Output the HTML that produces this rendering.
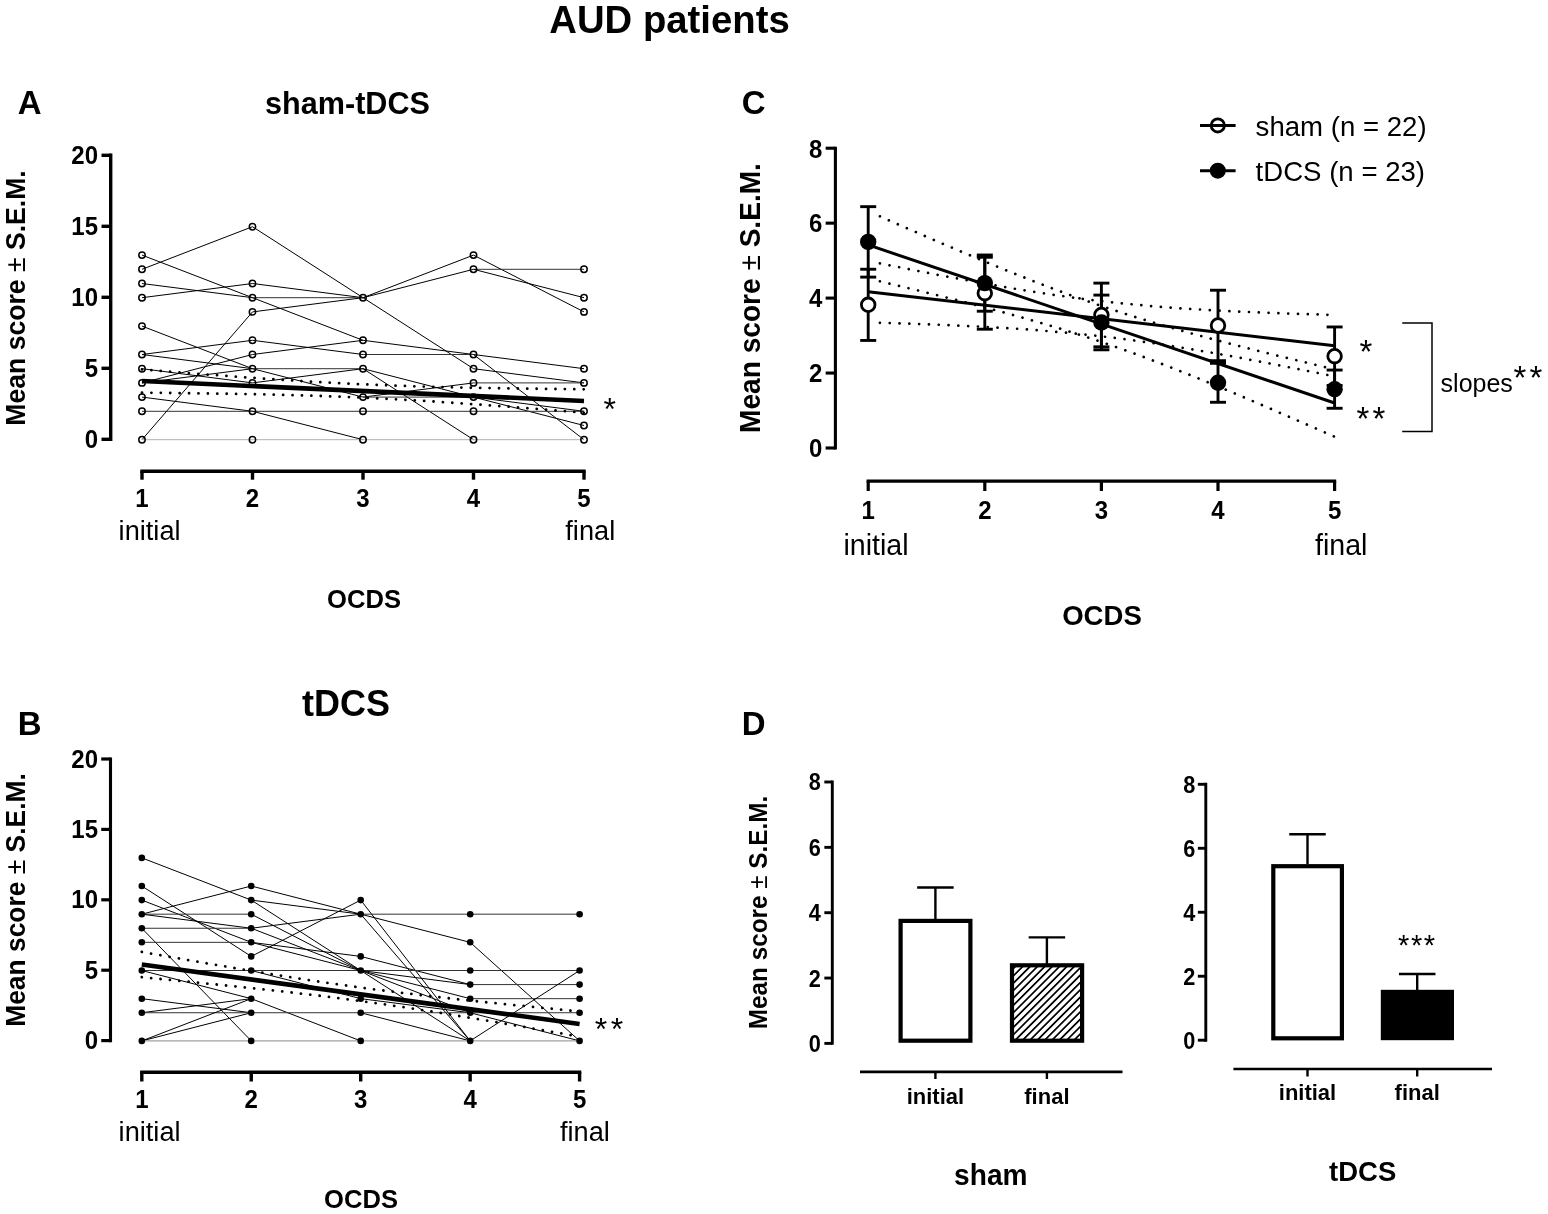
<!DOCTYPE html>
<html lang="en"><head><meta charset="utf-8"><title>AUD patients</title>
<style>html,body{margin:0;padding:0;background:#fff}svg{display:block}text{font-family:"Liberation Sans", Arial, Helvetica, sans-serif;fill:#000}</style></head><body>
<svg width="1548" height="1214" viewBox="0 0 1548 1214">
<rect width="1548" height="1214" fill="#fff"/>
<defs><pattern id="hatch" width="5.2" height="5.2" patternUnits="userSpaceOnUse" patternTransform="rotate(-45)"><line x1="0" y1="2.6" x2="5.2" y2="2.6" stroke="#000" stroke-width="1.7"/></pattern></defs>
<text transform="translate(669.5 33.0) scale(1 1.035)" font-size="38.3" font-weight="bold" text-anchor="middle">AUD patients</text>
<text transform="translate(17.8 114.0) scale(1 1.035)" font-size="33" font-weight="bold" text-anchor="start">A</text>
<text transform="translate(347.5 113.7) scale(1 1.035)" font-size="30.6" font-weight="bold" text-anchor="middle">sham-tDCS</text>
<text transform="translate(25.3,298.0) rotate(-90) scale(1 1.035)" font-size="26.6" font-weight="bold" text-anchor="middle">Mean score <tspan font-weight="normal">±</tspan> S.E.M.</text>
<line x1="110.70" y1="153.60" x2="110.70" y2="441.00" stroke="#000" stroke-width="3.4"/>
<line x1="101.50" y1="439.30" x2="110.70" y2="439.30" stroke="#000" stroke-width="3.4"/>
<text transform="translate(98.0 447.8) scale(1 1.1)" font-size="24" font-weight="bold" text-anchor="end">0</text>
<line x1="101.50" y1="368.30" x2="110.70" y2="368.30" stroke="#000" stroke-width="3.4"/>
<text transform="translate(98.0 376.8) scale(1 1.1)" font-size="24" font-weight="bold" text-anchor="end">5</text>
<line x1="101.50" y1="297.30" x2="110.70" y2="297.30" stroke="#000" stroke-width="3.4"/>
<text transform="translate(98.0 305.8) scale(1 1.1)" font-size="24" font-weight="bold" text-anchor="end">10</text>
<line x1="101.50" y1="226.30" x2="110.70" y2="226.30" stroke="#000" stroke-width="3.4"/>
<text transform="translate(98.0 234.8) scale(1 1.1)" font-size="24" font-weight="bold" text-anchor="end">15</text>
<line x1="101.50" y1="155.30" x2="110.70" y2="155.30" stroke="#000" stroke-width="3.4"/>
<text transform="translate(98.0 163.8) scale(1 1.1)" font-size="24" font-weight="bold" text-anchor="end">20</text>
<line x1="140.30" y1="471.20" x2="585.70" y2="471.20" stroke="#000" stroke-width="3.4"/>
<line x1="142.00" y1="471.20" x2="142.00" y2="479.70" stroke="#000" stroke-width="3.4"/>
<text transform="translate(142.0 507.0) scale(1 1.06)" font-size="24" font-weight="bold" text-anchor="middle">1</text>
<line x1="252.50" y1="471.20" x2="252.50" y2="479.70" stroke="#000" stroke-width="3.4"/>
<text transform="translate(252.5 507.0) scale(1 1.06)" font-size="24" font-weight="bold" text-anchor="middle">2</text>
<line x1="363.00" y1="471.20" x2="363.00" y2="479.70" stroke="#000" stroke-width="3.4"/>
<text transform="translate(363.0 507.0) scale(1 1.06)" font-size="24" font-weight="bold" text-anchor="middle">3</text>
<line x1="473.50" y1="471.20" x2="473.50" y2="479.70" stroke="#000" stroke-width="3.4"/>
<text transform="translate(473.5 507.0) scale(1 1.06)" font-size="24" font-weight="bold" text-anchor="middle">4</text>
<line x1="584.00" y1="471.20" x2="584.00" y2="479.70" stroke="#000" stroke-width="3.4"/>
<text transform="translate(584.0 507.0) scale(1 1.06)" font-size="24" font-weight="bold" text-anchor="middle">5</text>
<text transform="translate(118.6 540.2) scale(1 1.035)" font-size="27.2" text-anchor="start">initial</text>
<text transform="translate(565.3 540.2) scale(1 1.035)" font-size="27.2" text-anchor="start">final</text>
<text transform="translate(364.0 608.3) scale(1 1.035)" font-size="25.6" font-weight="bold" text-anchor="middle">OCDS</text>
<line x1="142.00" y1="255.10" x2="252.50" y2="297.70" stroke="#000" stroke-width="1.0"/>
<line x1="142.00" y1="269.30" x2="252.50" y2="226.70" stroke="#000" stroke-width="1.0"/>
<line x1="142.00" y1="283.50" x2="252.50" y2="297.70" stroke="#000" stroke-width="1.0"/>
<line x1="142.00" y1="297.70" x2="252.50" y2="283.50" stroke="#000" stroke-width="1.0"/>
<line x1="142.00" y1="326.10" x2="252.50" y2="368.70" stroke="#000" stroke-width="1.0"/>
<line x1="142.00" y1="354.50" x2="252.50" y2="340.30" stroke="#000" stroke-width="1.0"/>
<line x1="142.00" y1="354.50" x2="252.50" y2="368.70" stroke="#000" stroke-width="1.0"/>
<line x1="142.00" y1="368.70" x2="252.50" y2="382.90" stroke="#000" stroke-width="1.0"/>
<line x1="142.00" y1="382.90" x2="252.50" y2="354.50" stroke="#000" stroke-width="1.0"/>
<line x1="142.00" y1="382.90" x2="252.50" y2="368.70" stroke="#000" stroke-width="1.0"/>
<line x1="142.00" y1="397.10" x2="252.50" y2="411.30" stroke="#000" stroke-width="1.0"/>
<line x1="142.00" y1="411.30" x2="252.50" y2="411.30" stroke="#333" stroke-width="1.0"/>
<line x1="142.00" y1="439.70" x2="252.50" y2="311.90" stroke="#000" stroke-width="1.0"/>
<line x1="142.00" y1="439.70" x2="252.50" y2="439.70" stroke="#b0b0b0" stroke-width="1.0"/>
<line x1="252.50" y1="226.70" x2="363.00" y2="297.70" stroke="#000" stroke-width="1.0"/>
<line x1="252.50" y1="283.50" x2="363.00" y2="297.70" stroke="#000" stroke-width="1.0"/>
<line x1="252.50" y1="297.70" x2="363.00" y2="297.70" stroke="#333" stroke-width="1.0"/>
<line x1="252.50" y1="297.70" x2="363.00" y2="340.30" stroke="#000" stroke-width="1.0"/>
<line x1="252.50" y1="311.90" x2="363.00" y2="297.70" stroke="#000" stroke-width="1.0"/>
<line x1="252.50" y1="340.30" x2="363.00" y2="354.50" stroke="#000" stroke-width="1.0"/>
<line x1="252.50" y1="354.50" x2="363.00" y2="340.30" stroke="#000" stroke-width="1.0"/>
<line x1="252.50" y1="368.70" x2="363.00" y2="368.70" stroke="#333" stroke-width="1.0"/>
<line x1="252.50" y1="368.70" x2="363.00" y2="397.10" stroke="#000" stroke-width="1.0"/>
<line x1="252.50" y1="382.90" x2="363.00" y2="368.70" stroke="#000" stroke-width="1.0"/>
<line x1="252.50" y1="411.30" x2="363.00" y2="411.30" stroke="#333" stroke-width="1.0"/>
<line x1="252.50" y1="411.30" x2="363.00" y2="439.70" stroke="#000" stroke-width="1.0"/>
<line x1="252.50" y1="439.70" x2="363.00" y2="439.70" stroke="#b0b0b0" stroke-width="1.0"/>
<line x1="363.00" y1="297.70" x2="473.50" y2="255.10" stroke="#000" stroke-width="1.0"/>
<line x1="363.00" y1="297.70" x2="473.50" y2="269.30" stroke="#000" stroke-width="1.0"/>
<line x1="363.00" y1="297.70" x2="473.50" y2="368.70" stroke="#000" stroke-width="1.0"/>
<line x1="363.00" y1="340.30" x2="473.50" y2="354.50" stroke="#000" stroke-width="1.0"/>
<line x1="363.00" y1="354.50" x2="473.50" y2="354.50" stroke="#333" stroke-width="1.0"/>
<line x1="363.00" y1="368.70" x2="473.50" y2="397.10" stroke="#000" stroke-width="1.0"/>
<line x1="363.00" y1="368.70" x2="473.50" y2="439.70" stroke="#000" stroke-width="1.0"/>
<line x1="363.00" y1="397.10" x2="473.50" y2="382.90" stroke="#000" stroke-width="1.0"/>
<line x1="363.00" y1="397.10" x2="473.50" y2="397.10" stroke="#333" stroke-width="1.0"/>
<line x1="363.00" y1="411.30" x2="473.50" y2="411.30" stroke="#333" stroke-width="1.0"/>
<line x1="363.00" y1="439.70" x2="473.50" y2="439.70" stroke="#b0b0b0" stroke-width="1.0"/>
<line x1="473.50" y1="255.10" x2="584.00" y2="311.90" stroke="#000" stroke-width="1.0"/>
<line x1="473.50" y1="269.30" x2="584.00" y2="269.30" stroke="#333" stroke-width="1.0"/>
<line x1="473.50" y1="269.30" x2="584.00" y2="297.70" stroke="#000" stroke-width="1.0"/>
<line x1="473.50" y1="354.50" x2="584.00" y2="368.70" stroke="#000" stroke-width="1.0"/>
<line x1="473.50" y1="354.50" x2="584.00" y2="439.70" stroke="#000" stroke-width="1.0"/>
<line x1="473.50" y1="368.70" x2="584.00" y2="382.90" stroke="#000" stroke-width="1.0"/>
<line x1="473.50" y1="382.90" x2="584.00" y2="382.90" stroke="#333" stroke-width="1.0"/>
<line x1="473.50" y1="397.10" x2="584.00" y2="411.30" stroke="#000" stroke-width="1.0"/>
<line x1="473.50" y1="397.10" x2="584.00" y2="425.50" stroke="#000" stroke-width="1.0"/>
<line x1="473.50" y1="411.30" x2="584.00" y2="411.30" stroke="#333" stroke-width="1.0"/>
<line x1="473.50" y1="439.70" x2="584.00" y2="439.70" stroke="#b0b0b0" stroke-width="1.0"/>
<polyline points="142.0,369.4 149.4,370.0 156.7,370.6 164.1,371.2 171.5,371.8 178.8,372.3 186.2,372.9 193.6,373.5 200.9,374.0 208.3,374.6 215.7,375.1 223.0,375.7 230.4,376.2 237.8,376.8 245.1,377.3 252.5,377.8 259.9,378.3 267.2,378.8 274.6,379.3 282.0,379.8 289.3,380.3 296.7,380.7 304.1,381.2 311.4,381.6 318.8,382.1 326.2,382.5 333.5,382.9 340.9,383.3 348.3,383.6 355.6,384.0 363.0,384.3 370.4,384.6 377.7,385.0 385.1,385.2 392.5,385.5 399.8,385.8 407.2,386.0 414.6,386.3 421.9,386.5 429.3,386.7 436.7,386.9 444.0,387.1 451.4,387.3 458.8,387.5 466.1,387.6 473.5,387.8 480.9,387.9 488.2,388.0 495.6,388.2 503.0,388.3 510.3,388.4 517.7,388.5 525.1,388.6 532.4,388.7 539.8,388.8 547.2,388.9 554.5,389.0 561.9,389.1 569.3,389.1 576.6,389.2 584.0,389.3" fill="none" stroke="#000" stroke-width="2.8" stroke-linecap="round" stroke-dasharray="0.01 9.4"/>
<polyline points="142.0,392.7 149.4,392.8 156.7,392.8 164.1,392.9 171.5,393.0 178.8,393.1 186.2,393.2 193.6,393.3 200.9,393.4 208.3,393.5 215.7,393.6 223.0,393.7 230.4,393.8 237.8,394.0 245.1,394.1 252.5,394.2 259.9,394.4 267.2,394.5 274.6,394.7 282.0,394.9 289.3,395.1 296.7,395.3 304.1,395.5 311.4,395.7 318.8,395.9 326.2,396.2 333.5,396.5 340.9,396.7 348.3,397.0 355.6,397.3 363.0,397.7 370.4,398.0 377.7,398.4 385.1,398.7 392.5,399.1 399.8,399.5 407.2,399.9 414.6,400.3 421.9,400.8 429.3,401.2 436.7,401.7 444.0,402.2 451.4,402.7 458.8,403.2 466.1,403.7 473.5,404.2 480.9,404.7 488.2,405.2 495.6,405.8 503.0,406.3 510.3,406.8 517.7,407.4 525.1,408.0 532.4,408.5 539.8,409.1 547.2,409.7 554.5,410.2 561.9,410.8 569.3,411.4 576.6,412.0 584.0,412.6" fill="none" stroke="#000" stroke-width="2.8" stroke-linecap="round" stroke-dasharray="0.01 9.4"/>
<line x1="142.00" y1="381.05" x2="584.00" y2="400.93" stroke="#000" stroke-width="4.6"/>
<circle cx="142.0" cy="439.7" r="3.2" fill="none" stroke="#000" stroke-width="1.5"/>
<circle cx="142.0" cy="411.3" r="3.2" fill="none" stroke="#000" stroke-width="1.5"/>
<circle cx="142.0" cy="397.1" r="3.2" fill="none" stroke="#000" stroke-width="1.5"/>
<circle cx="142.0" cy="382.9" r="3.2" fill="none" stroke="#000" stroke-width="1.5"/>
<circle cx="142.0" cy="368.7" r="3.2" fill="none" stroke="#000" stroke-width="1.5"/>
<circle cx="142.0" cy="354.5" r="3.2" fill="none" stroke="#000" stroke-width="1.5"/>
<circle cx="142.0" cy="326.1" r="3.2" fill="none" stroke="#000" stroke-width="1.5"/>
<circle cx="142.0" cy="297.7" r="3.2" fill="none" stroke="#000" stroke-width="1.5"/>
<circle cx="142.0" cy="283.5" r="3.2" fill="none" stroke="#000" stroke-width="1.5"/>
<circle cx="142.0" cy="269.3" r="3.2" fill="none" stroke="#000" stroke-width="1.5"/>
<circle cx="142.0" cy="255.1" r="3.2" fill="none" stroke="#000" stroke-width="1.5"/>
<circle cx="252.5" cy="439.7" r="3.2" fill="none" stroke="#000" stroke-width="1.5"/>
<circle cx="252.5" cy="411.3" r="3.2" fill="none" stroke="#000" stroke-width="1.5"/>
<circle cx="252.5" cy="382.9" r="3.2" fill="none" stroke="#000" stroke-width="1.5"/>
<circle cx="252.5" cy="368.7" r="3.2" fill="none" stroke="#000" stroke-width="1.5"/>
<circle cx="252.5" cy="354.5" r="3.2" fill="none" stroke="#000" stroke-width="1.5"/>
<circle cx="252.5" cy="340.3" r="3.2" fill="none" stroke="#000" stroke-width="1.5"/>
<circle cx="252.5" cy="311.9" r="3.2" fill="none" stroke="#000" stroke-width="1.5"/>
<circle cx="252.5" cy="297.7" r="3.2" fill="none" stroke="#000" stroke-width="1.5"/>
<circle cx="252.5" cy="283.5" r="3.2" fill="none" stroke="#000" stroke-width="1.5"/>
<circle cx="252.5" cy="226.7" r="3.2" fill="none" stroke="#000" stroke-width="1.5"/>
<circle cx="363.0" cy="439.7" r="3.2" fill="none" stroke="#000" stroke-width="1.5"/>
<circle cx="363.0" cy="411.3" r="3.2" fill="none" stroke="#000" stroke-width="1.5"/>
<circle cx="363.0" cy="397.1" r="3.2" fill="none" stroke="#000" stroke-width="1.5"/>
<circle cx="363.0" cy="368.7" r="3.2" fill="none" stroke="#000" stroke-width="1.5"/>
<circle cx="363.0" cy="354.5" r="3.2" fill="none" stroke="#000" stroke-width="1.5"/>
<circle cx="363.0" cy="340.3" r="3.2" fill="none" stroke="#000" stroke-width="1.5"/>
<circle cx="363.0" cy="297.7" r="3.2" fill="none" stroke="#000" stroke-width="1.5"/>
<circle cx="473.5" cy="439.7" r="3.2" fill="none" stroke="#000" stroke-width="1.5"/>
<circle cx="473.5" cy="411.3" r="3.2" fill="none" stroke="#000" stroke-width="1.5"/>
<circle cx="473.5" cy="397.1" r="3.2" fill="none" stroke="#000" stroke-width="1.5"/>
<circle cx="473.5" cy="382.9" r="3.2" fill="none" stroke="#000" stroke-width="1.5"/>
<circle cx="473.5" cy="368.7" r="3.2" fill="none" stroke="#000" stroke-width="1.5"/>
<circle cx="473.5" cy="354.5" r="3.2" fill="none" stroke="#000" stroke-width="1.5"/>
<circle cx="473.5" cy="269.3" r="3.2" fill="none" stroke="#000" stroke-width="1.5"/>
<circle cx="473.5" cy="255.1" r="3.2" fill="none" stroke="#000" stroke-width="1.5"/>
<circle cx="584.0" cy="439.7" r="3.2" fill="none" stroke="#000" stroke-width="1.5"/>
<circle cx="584.0" cy="425.5" r="3.2" fill="none" stroke="#000" stroke-width="1.5"/>
<circle cx="584.0" cy="411.3" r="3.2" fill="none" stroke="#000" stroke-width="1.5"/>
<circle cx="584.0" cy="382.9" r="3.2" fill="none" stroke="#000" stroke-width="1.5"/>
<circle cx="584.0" cy="368.7" r="3.2" fill="none" stroke="#000" stroke-width="1.5"/>
<circle cx="584.0" cy="311.9" r="3.2" fill="none" stroke="#000" stroke-width="1.5"/>
<circle cx="584.0" cy="297.7" r="3.2" fill="none" stroke="#000" stroke-width="1.5"/>
<circle cx="584.0" cy="269.3" r="3.2" fill="none" stroke="#000" stroke-width="1.5"/>
<text x="603.4" y="420.0" font-size="32" letter-spacing="3.65">*</text>
<text transform="translate(17.8 735.4) scale(1 1.035)" font-size="33" font-weight="bold" text-anchor="start">B</text>
<text transform="translate(346.0 716.0) scale(1 1.035)" font-size="36" font-weight="bold" text-anchor="middle">tDCS</text>
<text transform="translate(25.3,900.0) rotate(-90) scale(1 1.035)" font-size="26.4" font-weight="bold" text-anchor="middle">Mean score <tspan font-weight="normal">±</tspan> S.E.M.</text>
<line x1="110.50" y1="757.45" x2="110.50" y2="1042.15" stroke="#000" stroke-width="3.1"/>
<line x1="101.25" y1="1040.60" x2="110.50" y2="1040.60" stroke="#000" stroke-width="3.2"/>
<text transform="translate(98.0 1049.2) scale(1 1.1)" font-size="24" font-weight="bold" text-anchor="end">0</text>
<line x1="101.25" y1="970.20" x2="110.50" y2="970.20" stroke="#000" stroke-width="3.2"/>
<text transform="translate(98.0 978.8) scale(1 1.1)" font-size="24" font-weight="bold" text-anchor="end">5</text>
<line x1="101.25" y1="899.80" x2="110.50" y2="899.80" stroke="#000" stroke-width="3.2"/>
<text transform="translate(98.0 908.4) scale(1 1.1)" font-size="24" font-weight="bold" text-anchor="end">10</text>
<line x1="101.25" y1="829.40" x2="110.50" y2="829.40" stroke="#000" stroke-width="3.2"/>
<text transform="translate(98.0 838.0) scale(1 1.1)" font-size="24" font-weight="bold" text-anchor="end">15</text>
<line x1="101.25" y1="759.00" x2="110.50" y2="759.00" stroke="#000" stroke-width="3.2"/>
<text transform="translate(98.0 767.6) scale(1 1.1)" font-size="24" font-weight="bold" text-anchor="end">20</text>
<line x1="140.10" y1="1072.20" x2="581.30" y2="1072.20" stroke="#000" stroke-width="3.4"/>
<line x1="141.80" y1="1072.20" x2="141.80" y2="1081.50" stroke="#000" stroke-width="3.4"/>
<text transform="translate(141.8 1107.5) scale(1 1.06)" font-size="24" font-weight="bold" text-anchor="middle">1</text>
<line x1="251.25" y1="1072.20" x2="251.25" y2="1081.50" stroke="#000" stroke-width="3.4"/>
<text transform="translate(251.2 1107.5) scale(1 1.06)" font-size="24" font-weight="bold" text-anchor="middle">2</text>
<line x1="360.70" y1="1072.20" x2="360.70" y2="1081.50" stroke="#000" stroke-width="3.4"/>
<text transform="translate(360.7 1107.5) scale(1 1.06)" font-size="24" font-weight="bold" text-anchor="middle">3</text>
<line x1="470.15" y1="1072.20" x2="470.15" y2="1081.50" stroke="#000" stroke-width="3.4"/>
<text transform="translate(470.2 1107.5) scale(1 1.06)" font-size="24" font-weight="bold" text-anchor="middle">4</text>
<line x1="579.60" y1="1072.20" x2="579.60" y2="1081.50" stroke="#000" stroke-width="3.4"/>
<text transform="translate(579.6 1107.5) scale(1 1.06)" font-size="24" font-weight="bold" text-anchor="middle">5</text>
<text transform="translate(118.6 1140.6) scale(1 1.035)" font-size="27.2" text-anchor="start">initial</text>
<text transform="translate(560.0 1140.6) scale(1 1.035)" font-size="27.2" text-anchor="start">final</text>
<text transform="translate(361.0 1207.5) scale(1 1.035)" font-size="25.6" font-weight="bold" text-anchor="middle">OCDS</text>
<line x1="141.80" y1="857.86" x2="251.25" y2="900.10" stroke="#000" stroke-width="1.0"/>
<line x1="141.80" y1="886.02" x2="251.25" y2="956.42" stroke="#000" stroke-width="1.0"/>
<line x1="141.80" y1="900.10" x2="251.25" y2="942.34" stroke="#000" stroke-width="1.0"/>
<line x1="141.80" y1="914.18" x2="251.25" y2="886.02" stroke="#000" stroke-width="1.0"/>
<line x1="141.80" y1="914.18" x2="251.25" y2="914.18" stroke="#333" stroke-width="1.0"/>
<line x1="141.80" y1="914.18" x2="251.25" y2="928.26" stroke="#000" stroke-width="1.0"/>
<line x1="141.80" y1="928.26" x2="251.25" y2="928.26" stroke="#333" stroke-width="1.0"/>
<line x1="141.80" y1="928.26" x2="251.25" y2="1040.90" stroke="#000" stroke-width="1.0"/>
<line x1="141.80" y1="942.34" x2="251.25" y2="942.34" stroke="#333" stroke-width="1.0"/>
<line x1="141.80" y1="970.50" x2="251.25" y2="970.50" stroke="#333" stroke-width="1.0"/>
<line x1="141.80" y1="970.50" x2="251.25" y2="998.66" stroke="#000" stroke-width="1.0"/>
<line x1="141.80" y1="998.66" x2="251.25" y2="1012.74" stroke="#000" stroke-width="1.0"/>
<line x1="141.80" y1="1012.74" x2="251.25" y2="998.66" stroke="#000" stroke-width="1.0"/>
<line x1="141.80" y1="1012.74" x2="251.25" y2="1012.74" stroke="#333" stroke-width="1.0"/>
<line x1="141.80" y1="1040.90" x2="251.25" y2="998.66" stroke="#000" stroke-width="1.0"/>
<line x1="141.80" y1="1040.90" x2="251.25" y2="1012.74" stroke="#000" stroke-width="1.0"/>
<line x1="141.80" y1="1040.90" x2="251.25" y2="1040.90" stroke="#8a8a8a" stroke-width="1.0"/>
<line x1="251.25" y1="886.02" x2="360.70" y2="914.18" stroke="#000" stroke-width="1.0"/>
<line x1="251.25" y1="900.10" x2="360.70" y2="914.18" stroke="#000" stroke-width="1.0"/>
<line x1="251.25" y1="900.10" x2="360.70" y2="970.50" stroke="#000" stroke-width="1.0"/>
<line x1="251.25" y1="914.18" x2="360.70" y2="970.50" stroke="#000" stroke-width="1.0"/>
<line x1="251.25" y1="928.26" x2="360.70" y2="914.18" stroke="#000" stroke-width="1.0"/>
<line x1="251.25" y1="928.26" x2="360.70" y2="970.50" stroke="#000" stroke-width="1.0"/>
<line x1="251.25" y1="942.34" x2="360.70" y2="956.42" stroke="#000" stroke-width="1.0"/>
<line x1="251.25" y1="942.34" x2="360.70" y2="970.50" stroke="#000" stroke-width="1.0"/>
<line x1="251.25" y1="956.42" x2="360.70" y2="900.10" stroke="#000" stroke-width="1.0"/>
<line x1="251.25" y1="970.50" x2="360.70" y2="970.50" stroke="#333" stroke-width="1.0"/>
<line x1="251.25" y1="970.50" x2="360.70" y2="998.66" stroke="#000" stroke-width="1.0"/>
<line x1="251.25" y1="998.66" x2="360.70" y2="1040.90" stroke="#000" stroke-width="1.0"/>
<line x1="251.25" y1="1012.74" x2="360.70" y2="1012.74" stroke="#333" stroke-width="1.0"/>
<line x1="251.25" y1="1040.90" x2="360.70" y2="1040.90" stroke="#8a8a8a" stroke-width="1.0"/>
<line x1="360.70" y1="900.10" x2="470.15" y2="1040.90" stroke="#000" stroke-width="1.0"/>
<line x1="360.70" y1="914.18" x2="470.15" y2="914.18" stroke="#333" stroke-width="1.0"/>
<line x1="360.70" y1="914.18" x2="470.15" y2="942.34" stroke="#000" stroke-width="1.0"/>
<line x1="360.70" y1="914.18" x2="470.15" y2="1040.90" stroke="#000" stroke-width="1.0"/>
<line x1="360.70" y1="956.42" x2="470.15" y2="984.58" stroke="#000" stroke-width="1.0"/>
<line x1="360.70" y1="970.50" x2="470.15" y2="970.50" stroke="#333" stroke-width="1.0"/>
<line x1="360.70" y1="970.50" x2="470.15" y2="984.58" stroke="#000" stroke-width="1.0"/>
<line x1="360.70" y1="970.50" x2="470.15" y2="998.66" stroke="#000" stroke-width="1.0"/>
<line x1="360.70" y1="970.50" x2="470.15" y2="1012.74" stroke="#000" stroke-width="1.0"/>
<line x1="360.70" y1="970.50" x2="470.15" y2="1040.90" stroke="#000" stroke-width="1.0"/>
<line x1="360.70" y1="998.66" x2="470.15" y2="1012.74" stroke="#000" stroke-width="1.0"/>
<line x1="360.70" y1="1012.74" x2="470.15" y2="1012.74" stroke="#333" stroke-width="1.0"/>
<line x1="360.70" y1="1012.74" x2="470.15" y2="1040.90" stroke="#000" stroke-width="1.0"/>
<line x1="360.70" y1="1040.90" x2="470.15" y2="1040.90" stroke="#8a8a8a" stroke-width="1.0"/>
<line x1="470.15" y1="914.18" x2="579.60" y2="914.18" stroke="#333" stroke-width="1.0"/>
<line x1="470.15" y1="942.34" x2="579.60" y2="1040.90" stroke="#000" stroke-width="1.0"/>
<line x1="470.15" y1="970.50" x2="579.60" y2="970.50" stroke="#333" stroke-width="1.0"/>
<line x1="470.15" y1="984.58" x2="579.60" y2="984.58" stroke="#333" stroke-width="1.0"/>
<line x1="470.15" y1="998.66" x2="579.60" y2="998.66" stroke="#333" stroke-width="1.0"/>
<line x1="470.15" y1="1012.74" x2="579.60" y2="1012.74" stroke="#333" stroke-width="1.0"/>
<line x1="470.15" y1="1012.74" x2="579.60" y2="1040.90" stroke="#000" stroke-width="1.0"/>
<line x1="470.15" y1="1040.90" x2="579.60" y2="970.50" stroke="#000" stroke-width="1.0"/>
<line x1="470.15" y1="1040.90" x2="579.60" y2="1040.90" stroke="#8a8a8a" stroke-width="1.0"/>
<polyline points="141.8,951.9 149.1,953.2 156.4,954.5 163.7,955.8 171.0,957.1 178.3,958.3 185.6,959.6 192.9,960.9 200.2,962.2 207.5,963.4 214.8,964.7 222.1,965.9 229.4,967.1 236.7,968.4 244.0,969.6 251.2,970.8 258.5,972.0 265.8,973.2 273.1,974.4 280.4,975.6 287.7,976.8 295.0,977.9 302.3,979.0 309.6,980.2 316.9,981.3 324.2,982.4 331.5,983.4 338.8,984.5 346.1,985.5 353.4,986.5 360.7,987.5 368.0,988.5 375.3,989.5 382.6,990.4 389.9,991.3 397.2,992.3 404.5,993.1 411.8,994.0 419.1,994.9 426.4,995.7 433.7,996.6 441.0,997.4 448.3,998.2 455.6,999.0 462.9,999.8 470.2,1000.5 477.4,1001.3 484.7,1002.1 492.0,1002.8 499.3,1003.5 506.6,1004.3 513.9,1005.0 521.2,1005.7 528.5,1006.4 535.8,1007.2 543.1,1007.9 550.4,1008.6 557.7,1009.3 565.0,1010.0 572.3,1010.7 579.6,1011.3" fill="none" stroke="#000" stroke-width="2.8" stroke-linecap="round" stroke-dasharray="0.01 9.4"/>
<polyline points="141.8,977.2 149.1,977.9 156.4,978.6 163.7,979.3 171.0,980.0 178.3,980.7 185.6,981.4 192.9,982.1 200.2,982.9 207.5,983.6 214.8,984.3 222.1,985.1 229.4,985.8 236.7,986.5 244.0,987.3 251.2,988.1 258.5,988.8 265.8,989.6 273.1,990.4 280.4,991.2 287.7,992.0 295.0,992.9 302.3,993.7 309.6,994.6 316.9,995.4 324.2,996.3 331.5,997.2 338.8,998.2 346.1,999.1 353.4,1000.1 360.7,1001.1 368.0,1002.1 375.3,1003.1 382.6,1004.1 389.9,1005.2 397.2,1006.2 404.5,1007.3 411.8,1008.4 419.1,1009.6 426.4,1010.7 433.7,1011.8 441.0,1013.0 448.3,1014.2 455.6,1015.4 462.9,1016.6 470.2,1017.8 477.4,1019.0 484.7,1020.2 492.0,1021.4 499.3,1022.7 506.6,1023.9 513.9,1025.2 521.2,1026.4 528.5,1027.7 535.8,1029.0 543.1,1030.2 550.4,1031.5 557.7,1032.8 565.0,1034.1 572.3,1035.4 579.6,1036.7" fill="none" stroke="#000" stroke-width="2.8" stroke-linecap="round" stroke-dasharray="0.01 9.4"/>
<line x1="141.80" y1="964.59" x2="579.60" y2="1024.00" stroke="#000" stroke-width="4.6"/>
<circle cx="141.8" cy="1040.9" r="3.3" fill="#000"/>
<circle cx="141.8" cy="1012.7" r="3.3" fill="#000"/>
<circle cx="141.8" cy="998.7" r="3.3" fill="#000"/>
<circle cx="141.8" cy="970.5" r="3.3" fill="#000"/>
<circle cx="141.8" cy="942.3" r="3.3" fill="#000"/>
<circle cx="141.8" cy="928.3" r="3.3" fill="#000"/>
<circle cx="141.8" cy="914.2" r="3.3" fill="#000"/>
<circle cx="141.8" cy="900.1" r="3.3" fill="#000"/>
<circle cx="141.8" cy="886.0" r="3.3" fill="#000"/>
<circle cx="141.8" cy="857.9" r="3.3" fill="#000"/>
<circle cx="251.2" cy="1040.9" r="3.3" fill="#000"/>
<circle cx="251.2" cy="1012.7" r="3.3" fill="#000"/>
<circle cx="251.2" cy="998.7" r="3.3" fill="#000"/>
<circle cx="251.2" cy="970.5" r="3.3" fill="#000"/>
<circle cx="251.2" cy="956.4" r="3.3" fill="#000"/>
<circle cx="251.2" cy="942.3" r="3.3" fill="#000"/>
<circle cx="251.2" cy="928.3" r="3.3" fill="#000"/>
<circle cx="251.2" cy="914.2" r="3.3" fill="#000"/>
<circle cx="251.2" cy="900.1" r="3.3" fill="#000"/>
<circle cx="251.2" cy="886.0" r="3.3" fill="#000"/>
<circle cx="360.7" cy="1040.9" r="3.3" fill="#000"/>
<circle cx="360.7" cy="1012.7" r="3.3" fill="#000"/>
<circle cx="360.7" cy="998.7" r="3.3" fill="#000"/>
<circle cx="360.7" cy="970.5" r="3.3" fill="#000"/>
<circle cx="360.7" cy="956.4" r="3.3" fill="#000"/>
<circle cx="360.7" cy="914.2" r="3.3" fill="#000"/>
<circle cx="360.7" cy="900.1" r="3.3" fill="#000"/>
<circle cx="470.2" cy="1040.9" r="3.3" fill="#000"/>
<circle cx="470.2" cy="1012.7" r="3.3" fill="#000"/>
<circle cx="470.2" cy="998.7" r="3.3" fill="#000"/>
<circle cx="470.2" cy="984.6" r="3.3" fill="#000"/>
<circle cx="470.2" cy="970.5" r="3.3" fill="#000"/>
<circle cx="470.2" cy="942.3" r="3.3" fill="#000"/>
<circle cx="470.2" cy="914.2" r="3.3" fill="#000"/>
<circle cx="579.6" cy="1040.9" r="3.3" fill="#000"/>
<circle cx="579.6" cy="1012.7" r="3.3" fill="#000"/>
<circle cx="579.6" cy="998.7" r="3.3" fill="#000"/>
<circle cx="579.6" cy="984.6" r="3.3" fill="#000"/>
<circle cx="579.6" cy="970.5" r="3.3" fill="#000"/>
<circle cx="579.6" cy="914.2" r="3.3" fill="#000"/>
<text x="594.7" y="1040.3" font-size="32" letter-spacing="3.65">**</text>
<text transform="translate(741.8 114.0) scale(1 1.035)" font-size="33" font-weight="bold" text-anchor="start">C</text>
<text transform="translate(760.3,298.0) rotate(-90) scale(1 1.035)" font-size="28.1" font-weight="bold" text-anchor="middle">Mean score <tspan font-weight="normal">±</tspan> S.E.M.</text>
<line x1="835.40" y1="146.65" x2="835.40" y2="449.55" stroke="#000" stroke-width="3.1"/>
<line x1="825.65" y1="448.00" x2="835.40" y2="448.00" stroke="#000" stroke-width="3.1"/>
<text transform="translate(822.3 457.3) scale(1 1.1)" font-size="24" font-weight="bold" text-anchor="end">0</text>
<line x1="825.65" y1="373.05" x2="835.40" y2="373.05" stroke="#000" stroke-width="3.1"/>
<text transform="translate(822.3 382.3) scale(1 1.1)" font-size="24" font-weight="bold" text-anchor="end">2</text>
<line x1="825.65" y1="298.10" x2="835.40" y2="298.10" stroke="#000" stroke-width="3.1"/>
<text transform="translate(822.3 307.4) scale(1 1.1)" font-size="24" font-weight="bold" text-anchor="end">4</text>
<line x1="825.65" y1="223.15" x2="835.40" y2="223.15" stroke="#000" stroke-width="3.1"/>
<text transform="translate(822.3 232.4) scale(1 1.1)" font-size="24" font-weight="bold" text-anchor="end">6</text>
<line x1="825.65" y1="148.20" x2="835.40" y2="148.20" stroke="#000" stroke-width="3.1"/>
<text transform="translate(822.3 157.5) scale(1 1.1)" font-size="24" font-weight="bold" text-anchor="end">8</text>
<line x1="866.60" y1="481.20" x2="1336.20" y2="481.20" stroke="#000" stroke-width="3.2"/>
<line x1="868.20" y1="481.20" x2="868.20" y2="491.00" stroke="#000" stroke-width="3.2"/>
<text transform="translate(868.2 518.7) scale(1 1.06)" font-size="24" font-weight="bold" text-anchor="middle">1</text>
<line x1="984.80" y1="481.20" x2="984.80" y2="491.00" stroke="#000" stroke-width="3.2"/>
<text transform="translate(984.8 518.7) scale(1 1.06)" font-size="24" font-weight="bold" text-anchor="middle">2</text>
<line x1="1101.40" y1="481.20" x2="1101.40" y2="491.00" stroke="#000" stroke-width="3.2"/>
<text transform="translate(1101.4 518.7) scale(1 1.06)" font-size="24" font-weight="bold" text-anchor="middle">3</text>
<line x1="1218.00" y1="481.20" x2="1218.00" y2="491.00" stroke="#000" stroke-width="3.2"/>
<text transform="translate(1218.0 518.7) scale(1 1.06)" font-size="24" font-weight="bold" text-anchor="middle">4</text>
<line x1="1334.60" y1="481.20" x2="1334.60" y2="491.00" stroke="#000" stroke-width="3.2"/>
<text transform="translate(1334.6 518.7) scale(1 1.06)" font-size="24" font-weight="bold" text-anchor="middle">5</text>
<text transform="translate(843.4 554.6) scale(1 1.035)" font-size="28.6" text-anchor="start">initial</text>
<text transform="translate(1315.0 554.6) scale(1 1.035)" font-size="28.6" text-anchor="start">final</text>
<text transform="translate(1102.0 625.0) scale(1 1.035)" font-size="27.6" font-weight="bold" text-anchor="middle">OCDS</text>
<line x1="1200.00" y1="125.40" x2="1235.60" y2="125.40" stroke="#000" stroke-width="3"/>
<circle cx="1217.8" cy="125.4" r="6.6" fill="none" stroke="#000" stroke-width="2.8"/>
<text transform="translate(1255.6 136.0) scale(1 1.035)" font-size="27.6" text-anchor="start">sham (n = 22)</text>
<line x1="1200.00" y1="170.70" x2="1235.60" y2="170.70" stroke="#000" stroke-width="3"/>
<circle cx="1217.8" cy="170.7" r="8" fill="#000"/>
<text transform="translate(1255.6 181.2) scale(1 1.035)" font-size="27.6" text-anchor="start">tDCS (n = 23)</text>
<polyline points="879.9,263.4 887.4,264.9 895.0,266.4 902.6,267.9 910.2,269.4 917.8,270.9 925.3,272.4 932.9,273.9 940.5,275.4 948.1,276.8 955.7,278.2 963.2,279.6 970.8,281.0 978.4,282.4 986.0,283.8 993.5,285.1 1001.1,286.4 1008.7,287.7 1016.3,289.0 1023.9,290.2 1031.4,291.5 1039.0,292.6 1046.6,293.8 1054.2,294.9 1061.8,296.0 1069.3,297.1 1076.9,298.1 1084.5,299.0 1092.1,300.0 1099.7,300.9 1107.2,301.8 1114.8,302.6 1122.4,303.4 1130.0,304.1 1137.5,304.9 1145.1,305.5 1152.7,306.2 1160.3,306.8 1167.9,307.4 1175.4,307.9 1183.0,308.5 1190.6,309.0 1198.2,309.4 1205.8,309.9 1213.3,310.3 1220.9,310.7 1228.5,311.1 1236.1,311.5 1243.7,311.8 1251.2,312.1 1258.8,312.4 1266.4,312.7 1274.0,313.0 1281.5,313.3 1289.1,313.6 1296.7,313.8 1304.3,314.1 1311.9,314.3 1319.4,314.5 1327.0,314.8 1334.6,315.0" fill="none" stroke="#000" stroke-width="2.7" stroke-linecap="round" stroke-dasharray="0.01 9.8"/>
<polyline points="879.9,322.8 887.4,323.0 895.0,323.2 902.6,323.5 910.2,323.7 917.8,324.0 925.3,324.3 932.9,324.5 940.5,324.8 948.1,325.1 955.7,325.5 963.2,325.8 970.8,326.2 978.4,326.5 986.0,326.9 993.5,327.3 1001.1,327.8 1008.7,328.2 1016.3,328.7 1023.9,329.2 1031.4,329.8 1039.0,330.4 1046.6,331.0 1054.2,331.6 1061.8,332.3 1069.3,333.0 1076.9,333.7 1084.5,334.5 1092.1,335.3 1099.7,336.1 1107.2,337.0 1114.8,337.9 1122.4,338.9 1130.0,339.9 1137.5,340.9 1145.1,342.0 1152.7,343.1 1160.3,344.3 1167.9,345.4 1175.4,346.6 1183.0,347.9 1190.6,349.1 1198.2,350.4 1205.8,351.7 1213.3,353.0 1220.9,354.4 1228.5,355.7 1236.1,357.1 1243.7,358.5 1251.2,360.0 1258.8,361.4 1266.4,362.9 1274.0,364.3 1281.5,365.8 1289.1,367.3 1296.7,368.8 1304.3,370.3 1311.9,371.8 1319.4,373.3 1327.0,374.9 1334.6,376.4" fill="none" stroke="#000" stroke-width="2.7" stroke-linecap="round" stroke-dasharray="0.01 9.8"/>
<polyline points="879.9,216.3 887.4,219.7 895.0,223.0 902.6,226.3 910.2,229.6 917.8,232.9 925.3,236.2 932.9,239.5 940.5,242.8 948.1,246.0 955.7,249.2 963.2,252.4 970.8,255.6 978.4,258.8 986.0,262.0 993.5,265.1 1001.1,268.2 1008.7,271.3 1016.3,274.3 1023.9,277.3 1031.4,280.3 1039.0,283.3 1046.6,286.2 1054.2,289.1 1061.8,291.9 1069.3,294.7 1076.9,297.4 1084.5,300.1 1092.1,302.8 1099.7,305.4 1107.2,307.9 1114.8,310.4 1122.4,312.9 1130.0,315.3 1137.5,317.7 1145.1,320.0 1152.7,322.3 1160.3,324.6 1167.9,326.8 1175.4,328.9 1183.0,331.1 1190.6,333.2 1198.2,335.2 1205.8,337.3 1213.3,339.3 1220.9,341.3 1228.5,343.3 1236.1,345.2 1243.7,347.2 1251.2,349.1 1258.8,351.0 1266.4,352.9 1274.0,354.8 1281.5,356.6 1289.1,358.5 1296.7,360.3 1304.3,362.1 1311.9,363.9 1319.4,365.8 1327.0,367.6 1334.6,369.3" fill="none" stroke="#000" stroke-width="2.7" stroke-linecap="round" stroke-dasharray="0.01 9.8"/>
<polyline points="879.9,281.3 887.4,283.1 895.0,284.9 902.6,286.8 910.2,288.6 917.8,290.4 925.3,292.3 932.9,294.2 940.5,296.0 948.1,297.9 955.7,299.8 963.2,301.8 970.8,303.7 978.4,305.7 986.0,307.7 993.5,309.7 1001.1,311.7 1008.7,313.8 1016.3,315.9 1023.9,318.0 1031.4,320.2 1039.0,322.3 1046.6,324.6 1054.2,326.8 1061.8,329.1 1069.3,331.5 1076.9,333.9 1084.5,336.3 1092.1,338.8 1099.7,341.4 1107.2,343.9 1114.8,346.6 1122.4,349.2 1130.0,352.0 1137.5,354.7 1145.1,357.5 1152.7,360.4 1160.3,363.3 1167.9,366.2 1175.4,369.2 1183.0,372.2 1190.6,375.2 1198.2,378.3 1205.8,381.4 1213.3,384.5 1220.9,387.6 1228.5,390.8 1236.1,394.0 1243.7,397.2 1251.2,400.4 1258.8,403.7 1266.4,406.9 1274.0,410.2 1281.5,413.5 1289.1,416.8 1296.7,420.1 1304.3,423.4 1311.9,426.7 1319.4,430.0 1327.0,433.4 1334.6,436.7" fill="none" stroke="#000" stroke-width="2.7" stroke-linecap="round" stroke-dasharray="0.01 9.8"/>
<line x1="868.20" y1="269.24" x2="868.20" y2="340.45" stroke="#000" stroke-width="2.9"/>
<line x1="860.20" y1="269.24" x2="876.20" y2="269.24" stroke="#000" stroke-width="2.9"/>
<line x1="860.20" y1="340.45" x2="876.20" y2="340.45" stroke="#000" stroke-width="2.9"/>
<line x1="984.80" y1="257.25" x2="984.80" y2="329.20" stroke="#000" stroke-width="2.9"/>
<line x1="976.80" y1="257.25" x2="992.80" y2="257.25" stroke="#000" stroke-width="2.9"/>
<line x1="976.80" y1="329.20" x2="992.80" y2="329.20" stroke="#000" stroke-width="2.9"/>
<line x1="1101.40" y1="283.11" x2="1101.40" y2="346.82" stroke="#000" stroke-width="2.9"/>
<line x1="1093.40" y1="283.11" x2="1109.40" y2="283.11" stroke="#000" stroke-width="2.9"/>
<line x1="1093.40" y1="346.82" x2="1109.40" y2="346.82" stroke="#000" stroke-width="2.9"/>
<line x1="1218.00" y1="290.23" x2="1218.00" y2="360.68" stroke="#000" stroke-width="2.9"/>
<line x1="1210.00" y1="290.23" x2="1226.00" y2="290.23" stroke="#000" stroke-width="2.9"/>
<line x1="1210.00" y1="360.68" x2="1226.00" y2="360.68" stroke="#000" stroke-width="2.9"/>
<line x1="1334.60" y1="326.96" x2="1334.60" y2="385.42" stroke="#000" stroke-width="2.9"/>
<line x1="1326.60" y1="326.96" x2="1342.60" y2="326.96" stroke="#000" stroke-width="2.9"/>
<line x1="1326.60" y1="385.42" x2="1342.60" y2="385.42" stroke="#000" stroke-width="2.9"/>
<line x1="868.20" y1="206.66" x2="868.20" y2="277.11" stroke="#000" stroke-width="2.9"/>
<line x1="860.20" y1="206.66" x2="876.20" y2="206.66" stroke="#000" stroke-width="2.9"/>
<line x1="860.20" y1="277.11" x2="876.20" y2="277.11" stroke="#000" stroke-width="2.9"/>
<line x1="984.80" y1="255.00" x2="984.80" y2="311.22" stroke="#000" stroke-width="2.9"/>
<line x1="976.80" y1="255.00" x2="992.80" y2="255.00" stroke="#000" stroke-width="2.9"/>
<line x1="976.80" y1="311.22" x2="992.80" y2="311.22" stroke="#000" stroke-width="2.9"/>
<line x1="1101.40" y1="295.10" x2="1101.40" y2="349.82" stroke="#000" stroke-width="2.9"/>
<line x1="1093.40" y1="295.10" x2="1109.40" y2="295.10" stroke="#000" stroke-width="2.9"/>
<line x1="1093.40" y1="349.82" x2="1109.40" y2="349.82" stroke="#000" stroke-width="2.9"/>
<line x1="1218.00" y1="363.31" x2="1218.00" y2="402.28" stroke="#000" stroke-width="2.9"/>
<line x1="1210.00" y1="363.31" x2="1226.00" y2="363.31" stroke="#000" stroke-width="2.9"/>
<line x1="1210.00" y1="402.28" x2="1226.00" y2="402.28" stroke="#000" stroke-width="2.9"/>
<line x1="1334.60" y1="370.05" x2="1334.60" y2="408.28" stroke="#000" stroke-width="2.9"/>
<line x1="1326.60" y1="370.05" x2="1342.60" y2="370.05" stroke="#000" stroke-width="2.9"/>
<line x1="1326.60" y1="408.28" x2="1342.60" y2="408.28" stroke="#000" stroke-width="2.9"/>
<line x1="868.20" y1="291.73" x2="1334.60" y2="345.69" stroke="#000" stroke-width="3.0"/>
<line x1="868.20" y1="244.89" x2="1334.60" y2="403.03" stroke="#000" stroke-width="3.0"/>
<circle cx="868.2" cy="304.8" r="6.8" fill="#fff" stroke="#000" stroke-width="2.8"/>
<circle cx="984.8" cy="293.2" r="6.8" fill="#fff" stroke="#000" stroke-width="2.8"/>
<circle cx="1101.4" cy="315.0" r="6.8" fill="#fff" stroke="#000" stroke-width="2.8"/>
<circle cx="1218.0" cy="325.5" r="6.8" fill="#fff" stroke="#000" stroke-width="2.8"/>
<circle cx="1334.6" cy="356.2" r="6.8" fill="#fff" stroke="#000" stroke-width="2.8"/>
<circle cx="868.2" cy="241.9" r="8.2" fill="#000"/>
<circle cx="984.8" cy="283.1" r="8.2" fill="#000"/>
<circle cx="1101.4" cy="322.5" r="8.2" fill="#000"/>
<circle cx="1218.0" cy="382.8" r="8.2" fill="#000"/>
<circle cx="1334.6" cy="389.2" r="8.2" fill="#000"/>
<text x="1359.4" y="363.2" font-size="33" letter-spacing="3.26">*</text>
<text x="1356.4" y="430.2" font-size="33" letter-spacing="3.26">**</text>
<polyline points="1402.2,323 1432,323 1432,431.6 1402.2,431.6" fill="none" stroke="#000" stroke-width="1.5"/>
<text transform="translate(1440.6 392.4) scale(1 1.035)" font-size="25" text-anchor="start">slopes</text>
<text x="1513.4" y="389.3" font-size="33" letter-spacing="3.26">**</text>
<text transform="translate(741.8 735.0) scale(1 1.035)" font-size="33" font-weight="bold" text-anchor="start">D</text>
<text transform="translate(767.3,912.5) rotate(-90) scale(1 1.035)" font-size="24.3" font-weight="bold" text-anchor="middle">Mean score <tspan font-weight="normal">±</tspan> S.E.M.</text>
<line x1="832.30" y1="780.55" x2="832.30" y2="1044.85" stroke="#000" stroke-width="2.9"/>
<line x1="824.35" y1="1043.40" x2="832.30" y2="1043.40" stroke="#000" stroke-width="2.9"/>
<text transform="translate(820.8 1051.8) scale(1 1.1)" font-size="21.7" font-weight="bold" text-anchor="end">0</text>
<line x1="824.35" y1="978.05" x2="832.30" y2="978.05" stroke="#000" stroke-width="2.9"/>
<text transform="translate(820.8 986.5) scale(1 1.1)" font-size="21.7" font-weight="bold" text-anchor="end">2</text>
<line x1="824.35" y1="912.70" x2="832.30" y2="912.70" stroke="#000" stroke-width="2.9"/>
<text transform="translate(820.8 921.1) scale(1 1.1)" font-size="21.7" font-weight="bold" text-anchor="end">4</text>
<line x1="824.35" y1="847.35" x2="832.30" y2="847.35" stroke="#000" stroke-width="2.9"/>
<text transform="translate(820.8 855.8) scale(1 1.1)" font-size="21.7" font-weight="bold" text-anchor="end">6</text>
<line x1="824.35" y1="782.00" x2="832.30" y2="782.00" stroke="#000" stroke-width="2.9"/>
<text transform="translate(820.8 790.4) scale(1 1.1)" font-size="21.7" font-weight="bold" text-anchor="end">8</text>
<line x1="860.00" y1="1071.90" x2="1122.50" y2="1071.90" stroke="#000" stroke-width="2.6"/>
<line x1="935.40" y1="1071.90" x2="935.40" y2="1079.00" stroke="#000" stroke-width="2.4"/>
<line x1="1046.90" y1="1071.90" x2="1046.90" y2="1079.00" stroke="#000" stroke-width="2.4"/>
<text transform="translate(935.4 1104.0) scale(1 1.035)" font-size="22" font-weight="bold" text-anchor="middle">initial</text>
<text transform="translate(1046.9 1104.0) scale(1 1.035)" font-size="22" font-weight="bold" text-anchor="middle">final</text>
<text transform="translate(990.8 1185.0) scale(1 1.035)" font-size="28.1" font-weight="bold" text-anchor="middle">sham</text>
<line x1="935.40" y1="919.24" x2="935.40" y2="887.54" stroke="#000" stroke-width="2.4"/>
<line x1="917.15" y1="887.54" x2="953.65" y2="887.54" stroke="#000" stroke-width="2.4"/>
<line x1="1046.90" y1="964.00" x2="1046.90" y2="937.37" stroke="#000" stroke-width="2.4"/>
<line x1="1028.65" y1="937.37" x2="1065.15" y2="937.37" stroke="#000" stroke-width="2.4"/>
<rect x="900.6" y="920.9" width="69.8" height="119.8" fill="#fff" stroke="#000" stroke-width="4.2"/>
<rect x="1012.0" y="965.3" width="70.1" height="75.4" fill="url(#hatch)" stroke="#000" stroke-width="4.2"/>
<line x1="1205.80" y1="782.85" x2="1205.80" y2="1041.65" stroke="#000" stroke-width="2.9"/>
<line x1="1197.85" y1="1040.20" x2="1205.80" y2="1040.20" stroke="#000" stroke-width="2.9"/>
<text transform="translate(1195.2 1048.6) scale(1 1.1)" font-size="21.7" font-weight="bold" text-anchor="end">0</text>
<line x1="1197.85" y1="976.23" x2="1205.80" y2="976.23" stroke="#000" stroke-width="2.9"/>
<text transform="translate(1195.2 984.6) scale(1 1.1)" font-size="21.7" font-weight="bold" text-anchor="end">2</text>
<line x1="1197.85" y1="912.25" x2="1205.80" y2="912.25" stroke="#000" stroke-width="2.9"/>
<text transform="translate(1195.2 920.7) scale(1 1.1)" font-size="21.7" font-weight="bold" text-anchor="end">4</text>
<line x1="1197.85" y1="848.27" x2="1205.80" y2="848.27" stroke="#000" stroke-width="2.9"/>
<text transform="translate(1195.2 856.7) scale(1 1.1)" font-size="21.7" font-weight="bold" text-anchor="end">6</text>
<line x1="1197.85" y1="784.30" x2="1205.80" y2="784.30" stroke="#000" stroke-width="2.9"/>
<text transform="translate(1195.2 792.7) scale(1 1.1)" font-size="21.7" font-weight="bold" text-anchor="end">8</text>
<line x1="1233.40" y1="1069.00" x2="1492.00" y2="1069.00" stroke="#000" stroke-width="2.6"/>
<line x1="1307.50" y1="1069.00" x2="1307.50" y2="1076.50" stroke="#000" stroke-width="2.4"/>
<line x1="1417.20" y1="1069.00" x2="1417.20" y2="1076.50" stroke="#000" stroke-width="2.4"/>
<text transform="translate(1307.5 1100.4) scale(1 1.035)" font-size="22" font-weight="bold" text-anchor="middle">initial</text>
<text transform="translate(1417.2 1100.4) scale(1 1.035)" font-size="22" font-weight="bold" text-anchor="middle">final</text>
<text transform="translate(1362.7 1180.5) scale(1 1.035)" font-size="27.5" font-weight="bold" text-anchor="middle">tDCS</text>
<line x1="1307.50" y1="864.27" x2="1307.50" y2="834.20" stroke="#000" stroke-width="2.4"/>
<line x1="1289.25" y1="834.20" x2="1325.75" y2="834.20" stroke="#000" stroke-width="2.4"/>
<line x1="1417.20" y1="989.98" x2="1417.20" y2="973.99" stroke="#000" stroke-width="2.4"/>
<line x1="1398.95" y1="973.99" x2="1435.45" y2="973.99" stroke="#000" stroke-width="2.4"/>
<rect x="1273.3" y="866.2" width="68.6" height="172.1" fill="#fff" stroke="#000" stroke-width="4.2"/>
<rect x="1380.8" y="989.8" width="73.2" height="50.4" fill="#000"/>
<text x="1398.0" y="955.2" font-size="29" letter-spacing="1.61">***</text>
</svg>
</body></html>
